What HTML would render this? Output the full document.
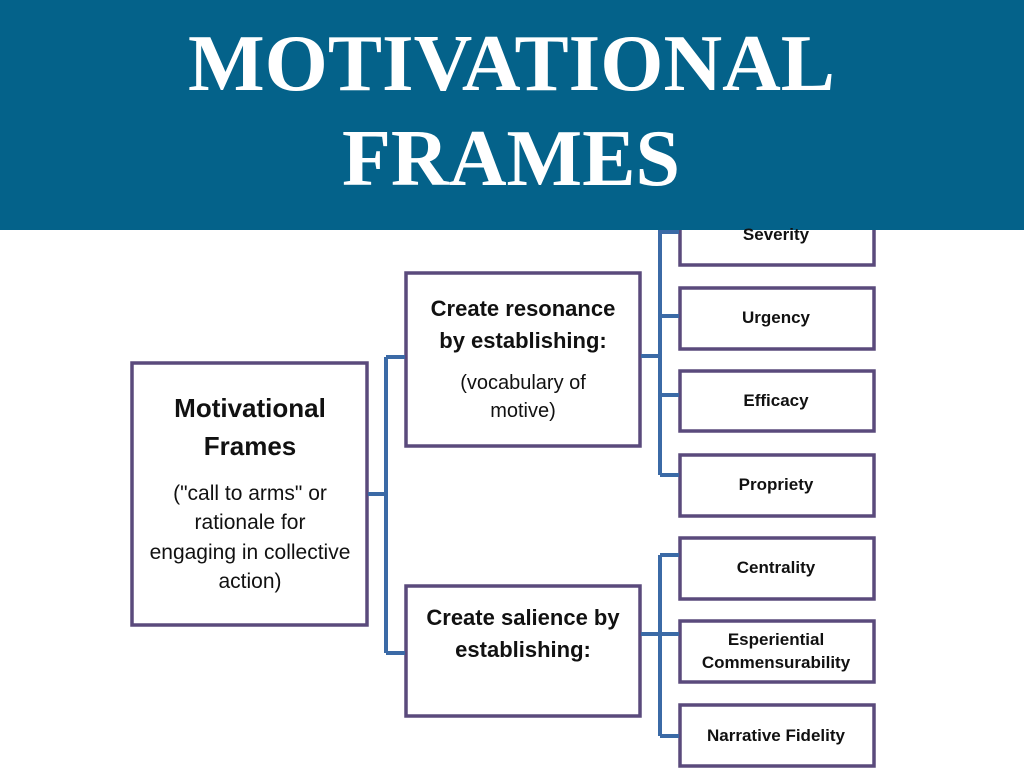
<!DOCTYPE html>
<html><head><meta charset="utf-8"><style>
html,body{margin:0;padding:0;background:#fff;}
svg{display:block;}
</style></head><body>
<svg width="1024" height="768" viewBox="0 0 1024 768" xmlns="http://www.w3.org/2000/svg">
<rect x="0" y="0" width="1024" height="768" fill="#fff"/>
<g fill="none" stroke="#5a4a7c" stroke-width="3.5">
<rect x="680" y="200" width="194" height="65"/>
<rect x="680" y="288" width="194" height="61"/>
<rect x="680" y="371" width="194" height="60"/>
<rect x="680" y="455" width="194" height="61"/>
<rect x="680" y="538" width="194" height="61"/>
<rect x="680" y="621" width="194" height="61"/>
<rect x="680" y="705" width="194" height="61"/>
<rect x="132" y="363" width="235" height="262"/>
<rect x="406" y="273" width="234" height="173"/>
<rect x="406" y="586" width="234" height="130"/>
</g>
<g fill="none" stroke="#3b6aa6" stroke-width="4">
<path d="M368 494 H386 M386 357 V653 M386 357 H405 M386 653 H405"/>
<path d="M641 356 H660 M660 225 V475 M660 232 H679 M660 316 H679 M660 395 H679 M660 475 H679"/>
<path d="M641 634 H660 M660 555 V736 M660 555 H679 M660 634 H679 M660 736 H679"/>
</g>
<rect x="0" y="0" width="1024" height="230" fill="#04628a"/>
<g font-family="'Liberation Serif',serif" font-weight="bold" fill="#fff" font-size="80">
<text x="188" y="90" textLength="647" lengthAdjust="spacingAndGlyphs">MOTIVATIONAL</text>
<text x="342" y="185" textLength="338" lengthAdjust="spacingAndGlyphs">FRAMES</text>
</g>
<g font-family="'Liberation Sans',sans-serif" fill="#111" text-anchor="middle">
<g font-weight="bold" font-size="26">
<text x="250" y="417">Motivational</text>
<text x="250" y="455">Frames</text>
</g>
<g font-size="21">
<text x="250" y="500">("call to arms" or</text>
<text x="250" y="529">rationale for</text>
<text x="250" y="559">engaging in collective</text>
<text x="250" y="588">action)</text>
</g>
<g font-weight="bold" font-size="22">
<text x="523" y="316">Create resonance</text>
<text x="523" y="348">by establishing:</text>
<text x="523" y="625">Create salience by</text>
<text x="523" y="657">establishing:</text>
</g>
<g font-size="20">
<text x="523" y="389">(vocabulary of</text>
<text x="523" y="417">motive)</text>
</g>
<g font-weight="bold" font-size="17">
<text x="776" y="240">Severity</text>
<text x="776" y="323">Urgency</text>
<text x="776" y="406">Efficacy</text>
<text x="776" y="490">Propriety</text>
<text x="776" y="573">Centrality</text>
<text x="776" y="645">Esperiential</text>
<text x="776" y="668">Commensurability</text>
<text x="776" y="741">Narrative Fidelity</text>
</g>
</g>
</svg>
</body></html>
